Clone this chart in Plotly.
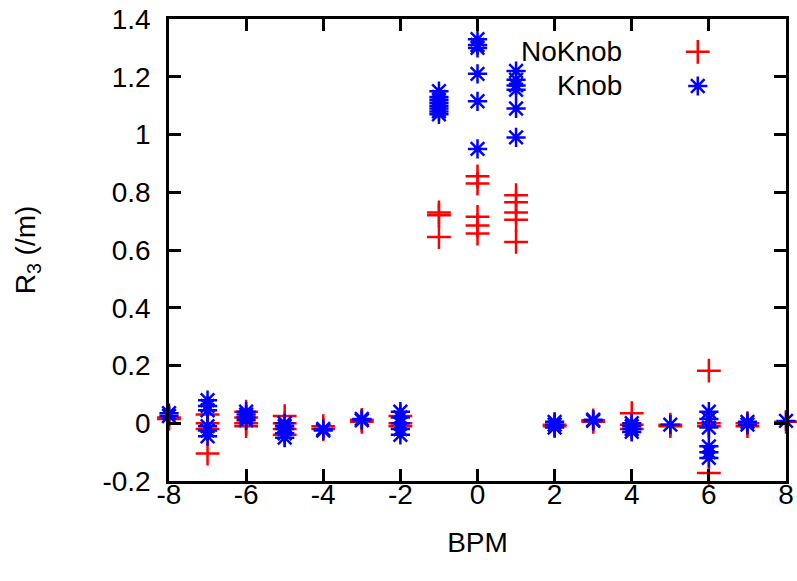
import plotly.graph_objects as go

# NoKnob (red +)
noknob_bpm = [-8, -8,
              -7, -7, -7, -7,
              -6, -6, -6, -6,
              -5, -5, -5, -5,
              -4, -4,
              -3, -3,
              -2, -2, -2,
              -1, -1, -1,
              0, 0, 0, 0, 0,
              1, 1, 1, 1, 1,
              2, 2,
              3, 3,
              4, 4, 4,
              5, 5,
              6, 6, 6, 6,
              7, 7,
              8]
noknob_r3 = [0.02, 0.015,
             0.03, 0.0, -0.02, -0.105,
             0.04, 0.02, 0.0, -0.01,
             0.025, 0.0, -0.02, -0.04,
             -0.01, -0.02,
             0.012, 0.005,
             0.025, 0.0, -0.01,
             0.73, 0.72, 0.645,
             0.855, 0.83, 0.715, 0.685, 0.657,
             0.79, 0.765, 0.73, 0.705, 0.628,
             -0.005, -0.01,
             0.01, 0.005,
             0.035, -0.005, -0.02,
             -0.005, -0.01,
             0.182, 0.0, -0.01, -0.172,
             0.0, -0.01,
             0.005]

# Knob (blue *)
knob_bpm = [-8, -8,
            -7, -7, -7, -7, -7, -7,
            -6, -6, -6, -6,
            -5, -5, -5, -5, -5,
            -4, -4,
            -3, -3,
            -2, -2, -2, -2, -2,
            -1, -1, -1, -1, -1, -1, -1, -1,
            0, 0, 0, 0, 0, 0,
            1, 1, 1, 1, 1, 1,
            2, 2, 2,
            3, 3,
            4, 4, 4, 4,
            5,
            6, 6, 6, 6, 6, 6,
            7, 7,
            8]
knob_r3 = [0.035, 0.025,
           0.08, 0.06, 0.045, -0.01, -0.025, -0.045,
           0.04, 0.03, 0.02, 0.01,
           0.0, -0.01, -0.02, -0.035, -0.05,
           -0.02, -0.025,
           0.015, 0.01,
           0.04, 0.02, 0.0, -0.02, -0.04,
           1.15, 1.13, 1.12, 1.11, 1.10, 1.09, 1.08, 1.07,
           1.33, 1.31, 1.30, 1.21, 1.115, 0.95,
           1.22, 1.19, 1.17, 1.155, 1.09, 0.99,
           0.005, -0.005, -0.015,
           0.012, 0.008,
           0.0, -0.01, -0.02, -0.03,
           -0.005,
           0.04, 0.015, -0.015, -0.08, -0.1, -0.12,
           0.005, -0.005,
           0.008]

x_ticks = [-8, -6, -4, -2, 0, 2, 4, 6, 8]
y_ticks = [-0.2, 0, 0.2, 0.4, 0.6, 0.8, 1.0, 1.2, 1.4]
y_tick_labels = ["-0.2", "0", "0.2", "0.4", "0.6", "0.8", "1", "1.2", "1.4"]
series_names = ["NoKnob", "Knob"]

RED = "rgb(255,0,0)"
BLUE = "rgb(0,0,255)"
FONT = "Liberation Sans, Arial, sans-serif"
FS = 28

plus_marker = dict(symbol="cross-thin-open", size=17, color=RED, line=dict(color=RED, width=2.5))
star_marker = dict(symbol="asterisk-open", size=16, color=BLUE, line=dict(color=BLUE, width=2.5))

fig = go.Figure()
fig.add_trace(go.Scatter(x=noknob_bpm, y=noknob_r3, mode="markers", name=series_names[0],
                         marker=plus_marker, cliponaxis=False, showlegend=False))
fig.add_trace(go.Scatter(x=knob_bpm, y=knob_r3, mode="markers", name=series_names[1],
                         marker=star_marker, cliponaxis=False, showlegend=False))

# key samples (gnuplot-style: text left, symbol right) on a hidden overlay axis
key_x = [0.857, 0.857]
key_y = [0.929, 0.855]
fig.add_trace(go.Scatter(x=[key_x[0]], y=[key_y[0]], xaxis="x2", yaxis="y2", mode="markers",
                         marker=plus_marker, showlegend=False, hoverinfo="skip", cliponaxis=False))
fig.add_trace(go.Scatter(x=[key_x[1]], y=[key_y[1]], xaxis="x2", yaxis="y2", mode="markers",
                         marker=star_marker, showlegend=False, hoverinfo="skip", cliponaxis=False))

for name, yy in zip(series_names, key_y):
    fig.add_annotation(x=0.738, y=yy, xref="paper", yref="paper", text=name,
                       showarrow=False, xanchor="right", yanchor="middle",
                       font=dict(family=FONT, size=FS, color="black"))

axis_common = dict(showline=True, linecolor="black", linewidth=2.5, mirror="ticks",
                   ticks="inside", ticklen=12, tickwidth=2.5, tickcolor="black",
                   showgrid=False, zeroline=False, automargin=False,
                   tickfont=dict(family=FONT, size=FS, color="black"))

fig.update_layout(
    width=797, height=581,
    margin=dict(l=169, r=11, t=19, b=100),
    paper_bgcolor="white", plot_bgcolor="white",
    xaxis=dict(range=[-8, 8], tickvals=x_ticks, ticktext=[str(v) for v in x_ticks],
               title=dict(text="BPM", font=dict(family=FONT, size=FS, color="black"), standoff=24),
               ticklabelstandoff=-13, **axis_common),
    yaxis=dict(range=[-0.2, 1.4], tickvals=y_ticks, ticktext=y_tick_labels,
               title=dict(text="R<sub>3</sub> (/m)", font=dict(family=FONT, size=FS, color="black"), standoff=59),
               ticklabelstandoff=10, **axis_common),
    xaxis2=dict(range=[0, 1], overlaying="x", visible=False, fixedrange=True),
    yaxis2=dict(range=[0, 1], overlaying="y", visible=False, fixedrange=True),
    showlegend=False,
)

fig.write_html("out.html")
